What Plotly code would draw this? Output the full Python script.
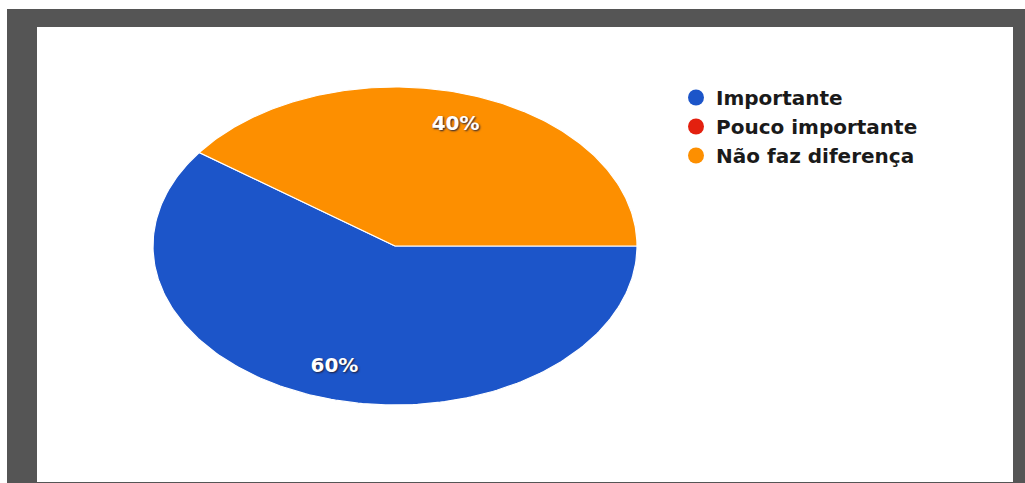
import numpy as np
import plotly.graph_objects as go

categories = ["Importante", "Pouco importante", "Não faz diferença"]
values = [60, 0, 40]
colors = ["#1c55c9", "#e3200f", "#fd8f00"]

W, H = 1025, 483
cx, cy, rx, ry = 395, 246, 242, 159

fig = go.Figure()

total = sum(values)
start = 0.0  # degrees, 3 o'clock, clockwise
for cat, val, col in zip(categories, values, colors):
    sweep = 360.0 * val / total
    if val > 0:
        ang = np.radians(np.linspace(start, start - sweep, 200))
        xs = np.concatenate([[0], np.cos(ang), [0]])
        ys = np.concatenate([[0], np.sin(ang), [0]])
        fig.add_trace(go.Scatter(x=xs, y=ys, mode="lines", fill="toself",
                                 fillcolor=col, line=dict(color="white", width=1.2),
                                 hoverinfo="skip", showlegend=False))
        mid = np.radians(start - sweep / 2)
        fig.add_trace(go.Scatter(x=[0.81 * np.cos(mid)], y=[0.8 * np.sin(mid)], mode="text",
                                 text=[f"{val / total * 100:.0f}%"],
                                 textfont=dict(family="DejaVu Sans", size=20, color="white",
                                               weight="bold", shadow="1px 1px 2px #20203a"),
                                 hoverinfo="skip", showlegend=False))
    fig.add_trace(go.Scatter(x=[None], y=[None], mode="markers", name=cat, legendgroup=cat,
                             marker=dict(color=col, size=17, symbol="circle")))
    start -= sweep

fig.update_layout(
    width=W, height=H,
    margin=dict(l=0, r=0, t=0, b=0),
    paper_bgcolor="white", plot_bgcolor="rgba(0,0,0,0)",
    xaxis=dict(range=[-cx / rx, (W - cx) / rx], visible=False, fixedrange=True),
    yaxis=dict(range=[-(H - cy) / ry, cy / ry], visible=False, fixedrange=True),
    legend=dict(x=676 / W, y=1 - 78 / H, xanchor="left", yanchor="top",
                font=dict(family="DejaVu Sans", size=20, color="#1a1a1a", weight="bold"),
                bgcolor="rgba(0,0,0,0)", itemwidth=30, tracegroupgap=0),
    shapes=[
        dict(type="rect", xref="paper", yref="paper", x0=7 / W, x1=1, y0=0, y1=1 - 9 / H,
             fillcolor="#555555", line=dict(width=0), layer="below"),
        dict(type="rect", xref="paper", yref="paper", x0=37 / W, x1=1013 / W, y0=1 / H, y1=1 - 27 / H,
             fillcolor="white", line=dict(width=0), layer="below"),
    ],
)

fig.write_html("out.html", config={"displayModeBar": False},
               post_script="document.body.style.margin='0';document.body.style.padding='0';")
